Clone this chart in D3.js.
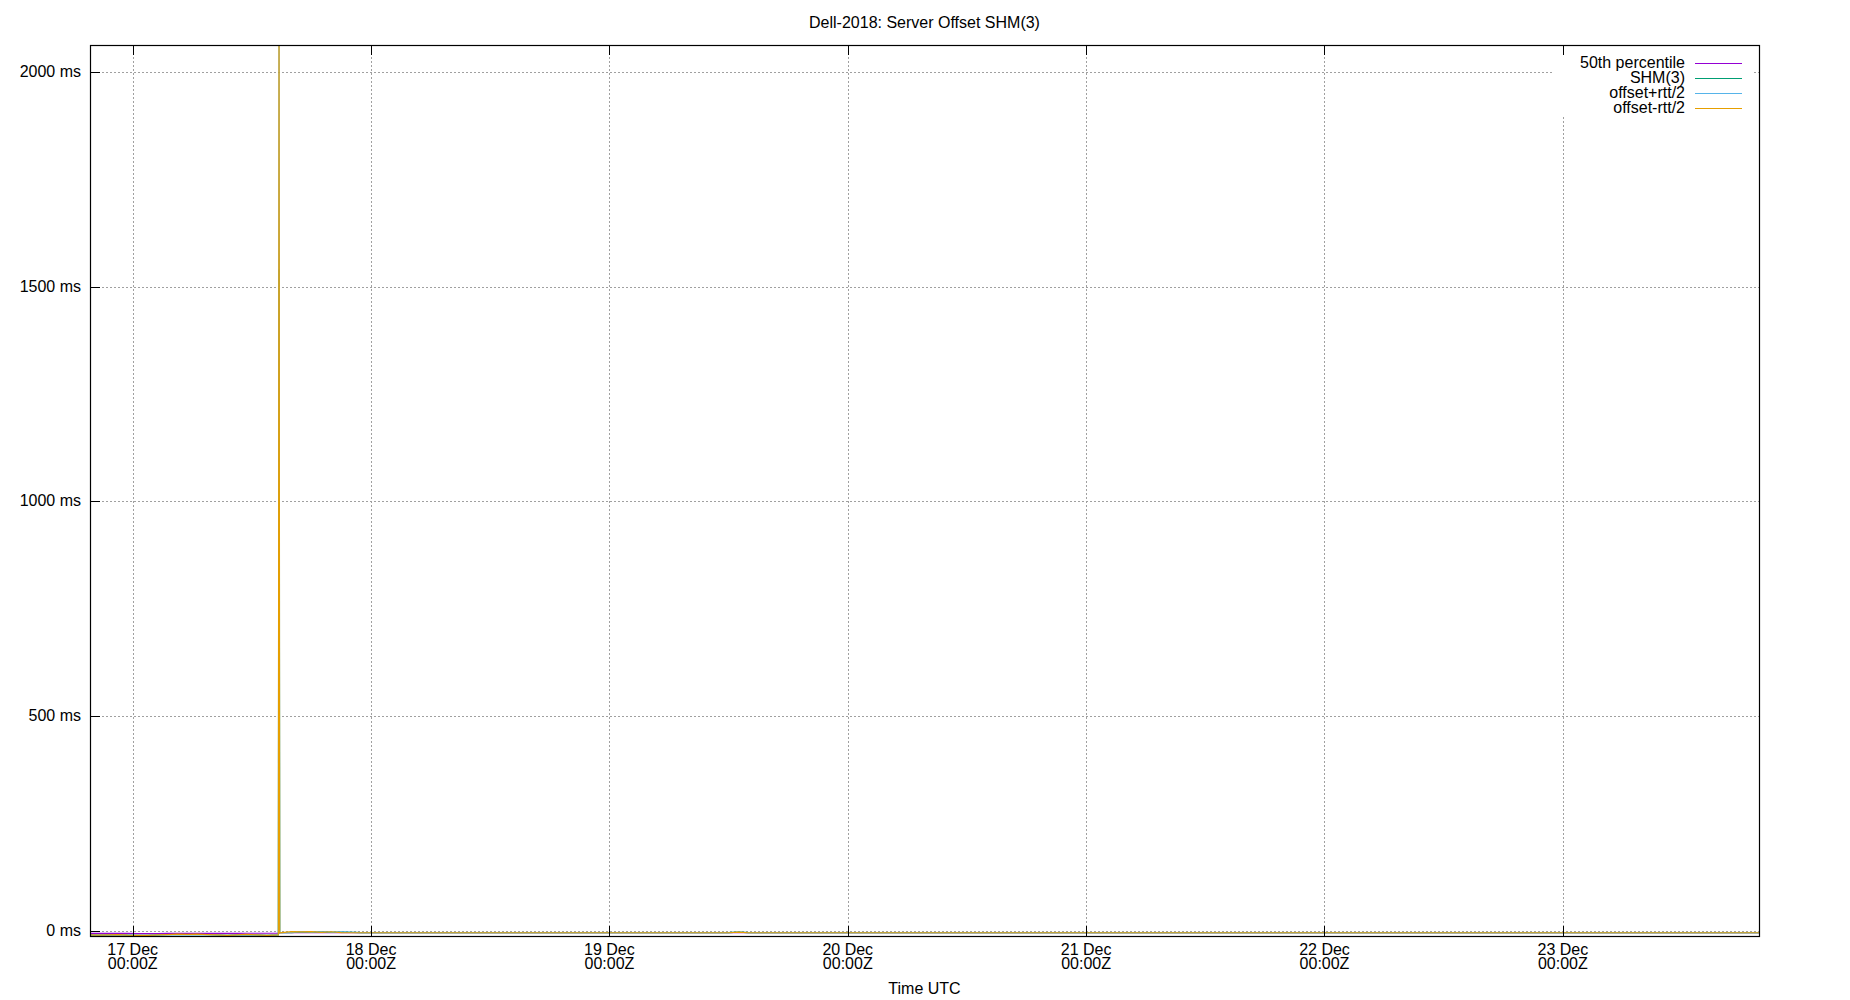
<!DOCTYPE html>
<html>
<head>
<meta charset="utf-8">
<script src="https://cdn.jsdelivr.net/npm/d3@7"></script>
<style>
  body { margin: 0; background: #fff; }
  svg { display: block; font-family: "Liberation Sans", Arial, sans-serif; }
</style>
</head>
<body>
<div id="chart"></div>
<script>
// sample times (UTC)
const times = [
  "2018-12-16T19:42Z", "2018-12-16T20:30Z", "2018-12-16T21:30Z", "2018-12-16T22:30Z",
  "2018-12-16T23:30Z", "2018-12-17T00:30Z", "2018-12-17T01:30Z", "2018-12-17T02:30Z",
  "2018-12-17T03:30Z", "2018-12-17T04:30Z", "2018-12-17T05:30Z", "2018-12-17T06:30Z",
  "2018-12-17T07:30Z", "2018-12-17T08:30Z", "2018-12-17T09:30Z", "2018-12-17T10:30Z",
  "2018-12-17T11:30Z", "2018-12-17T12:30Z", "2018-12-17T13:30Z", "2018-12-17T14:40Z",
  "2018-12-17T14:44Z", "2018-12-17T14:48Z", "2018-12-17T16:00Z", "2018-12-17T17:00Z",
  "2018-12-17T18:00Z", "2018-12-17T19:00Z", "2018-12-17T20:00Z", "2018-12-17T21:00Z",
  "2018-12-17T23:00Z", "2018-12-18T06:00Z", "2018-12-18T12:00Z", "2018-12-18T18:00Z",
  "2018-12-19T00:00Z", "2018-12-19T06:00Z", "2018-12-19T12:00Z", "2018-12-19T13:00Z",
  "2018-12-19T14:00Z", "2018-12-19T18:00Z", "2018-12-20T06:00Z", "2018-12-20T18:00Z",
  "2018-12-21T06:00Z", "2018-12-21T18:00Z", "2018-12-22T06:00Z", "2018-12-22T18:00Z",
  "2018-12-23T06:00Z", "2018-12-23T19:45Z"
];

// offsets in ms
const p50 = [
  -6.5, -6.5, -6.5, -6.5, -6.5, -7, -7, -7, -6.5, -6.5, -6.5, -6.5, -6.5, -6.5, -6.5, -6.5, -6, -6, -6, -6,
  -6, -4.5, -4.5, -4.5, -4.5, -4.5, -4.5, -4.5, -4.5, -4.5, -4.5, -4.5, -4.5, -4.5, -4.5, -4.5,
  -4.5, -4.5, -4.5, -4.5, -4.5, -4.5, -4.5, -4.5, -4.5, -4.5
];
const shm = [
  -10, -10.5, -10, -9.5, -10.5, -11, -11, -10, -9.5, -9, -9, -9, -9.5, -10, -11, -10, -9, -10, -11, -10,
  1540, -4.5, -4.5, -3, -4, -3, -4, -3.5, -4.5, -4.5, -4.5, -4.5, -4.5, -4.5, -4.5, -3.5,
  -4.5, -4.5, -4.5, -4.5, -4.5, -4.5, -4.5, -4.5, -4.5, -4.5
];
const plusHalfRtt = [
  -10, -10.5, -10, -9.5, -10.5, -11, -11, -10, -9.5, -9, -9, -9, -9.5, -10, -11, -10, -9, -10, -11, -10,
  2160, -4.5, -4, -2.5, -3.5, -2.5, -3.5, -3, -4.5, -4.6, -4.6, -4.6, -4.6, -4.6, -4.6, -3.5,
  -4.6, -4.6, -4.6, -4.6, -4.6, -4.6, -4.6, -4.6, -4.6, -4.6
];
const minusHalfRtt = [
  -10, -10.5, -10, -9, -10.5, -11, -11, -10, -9, -8, -8.5, -8, -9, -10, -11, -10, -8.5, -10, -11, -10,
  2150, -5, -2, -3, -2, -4, -2.5, -4.5, -4.8, -4.8, -4.8, -4.8, -4.8, -4.8, -4.8, -3.5,
  -4.8, -4.8, -4.8, -4.8, -4.8, -4.8, -4.8, -4.8, -4.8, -4.8
];

const seriesNames = ["50th percentile", "SHM(3)", "offset+rtt/2", "offset-rtt/2"];
const seriesColors = ["#9400d3", "#009e73", "#56b4e9", "#e69f00"];
const yTicks = [0, 500, 1000, 1500, 2000];
const xTicks = ["2018-12-17", "2018-12-18", "2018-12-19", "2018-12-20", "2018-12-21", "2018-12-22", "2018-12-23"];

const W = 1850, H = 1000;
const margin = {top: 45, right: 91, bottom: 64, left: 90};
const width = W - margin.left - margin.right;
const height = H - margin.top - margin.bottom;

const svg = d3.select("#chart").append("svg")
  .attr("width", W).attr("height", H);

const x = d3.scaleUtc()
  .domain([new Date("2018-12-16T19:42Z"), new Date("2018-12-23T19:45Z")])
  .range([0, width]);
const y = d3.scaleLinear()
  .domain([-12.4, 2063])
  .range([height, 0]);

const g = svg.append("g").attr("transform", `translate(${margin.left},${margin.top})`);

svg.append("text")
  .attr("x", margin.left + width / 2).attr("y", 28)
  .attr("text-anchor", "middle").attr("font-size", 16)
  .text("Dell-2018: Server Offset SHM(3)");

// grid
const xt = xTicks.map(d => new Date(d + "T00:00Z"));
g.append("g").selectAll("line").data(xt).join("line")
  .attr("x1", d => Math.round(x(d)) + 0.5).attr("x2", d => Math.round(x(d)) + 0.5)
  .attr("y1", 0).attr("y2", height)
  .attr("stroke", "#a0a0a0").attr("stroke-dasharray", "2,2");
g.append("g").selectAll("line").data(yTicks).join("line")
  .attr("y1", d => Math.round(y(d)) + 0.5).attr("y2", d => Math.round(y(d)) + 0.5)
  .attr("x1", 0).attr("x2", width)
  .attr("stroke", "#a0a0a0").attr("stroke-dasharray", "2,2");

// data
g.append("clipPath").attr("id", "clip")
  .append("rect").attr("width", width).attr("height", height);

const dates = times.map(t => new Date(t));
const line = d3.line()
  .x((d, i) => x(dates[i]))
  .y(d => y(d));

const plot = g.append("g").attr("clip-path", "url(#clip)");
[p50, shm, plusHalfRtt, minusHalfRtt].forEach((s, i) => {
  plot.append("path")
    .datum(s)
    .attr("fill", "none")
    .attr("stroke", seriesColors[i])
    .attr("stroke-width", 1.2)
    .attr("d", line);
});

// key box
const key = g.append("g").attr("transform", `translate(${width - 206},5)`);
key.append("rect").attr("x", 0).attr("y", 0).attr("width", 200).attr("height", 66).attr("fill", "#fff");
seriesNames.forEach((name, i) => {
  const ly = 13 + i * 15;
  key.append("text")
    .attr("x", 132).attr("y", ly + 5)
    .attr("text-anchor", "end").attr("font-size", 16)
    .text(name);
  key.append("line")
    .attr("x1", 142).attr("x2", 189)
    .attr("y1", ly + 0.5).attr("y2", ly + 0.5)
    .attr("stroke", seriesColors[i]).attr("stroke-width", 1.2);
});

// ticks: x mirrored top and bottom, y only on the left
const ticks = g.append("g").attr("stroke", "#000").attr("shape-rendering", "crispEdges");
xt.forEach(d => {
  const px = Math.round(x(d)) + 0.5;
  ticks.append("line").attr("x1", px).attr("x2", px).attr("y1", height).attr("y2", height - 10);
  ticks.append("line").attr("x1", px).attr("x2", px).attr("y1", 0).attr("y2", 10);
});
yTicks.forEach(d => {
  const py = Math.round(y(d)) + 0.5;
  ticks.append("line").attr("x1", 0).attr("x2", 10).attr("y1", py).attr("y2", py);
});

// border
g.append("rect").attr("x", 0.5).attr("y", 0.5).attr("width", width).attr("height", height)
  .attr("fill", "none").attr("stroke", "#000").attr("stroke-width", 1.2);

// tick labels
g.append("g").selectAll("text").data(yTicks).join("text")
  .attr("x", -9).attr("y", d => y(d) + 5)
  .attr("text-anchor", "end").attr("font-size", 16)
  .text(d => d + " ms");

const fmtDay = d3.utcFormat("%-d %b");
const xl = g.append("g").selectAll("text").data(xt).join("text")
  .attr("text-anchor", "middle").attr("font-size", 16);
xl.append("tspan").attr("x", d => x(d)).attr("y", height + 19).text(d => fmtDay(d));
xl.append("tspan").attr("x", d => x(d)).attr("y", height + 33).text("00:00Z");

svg.append("text")
  .attr("x", margin.left + width / 2).attr("y", 994)
  .attr("text-anchor", "middle").attr("font-size", 16)
  .text("Time UTC");
</script>
</body>
</html>
